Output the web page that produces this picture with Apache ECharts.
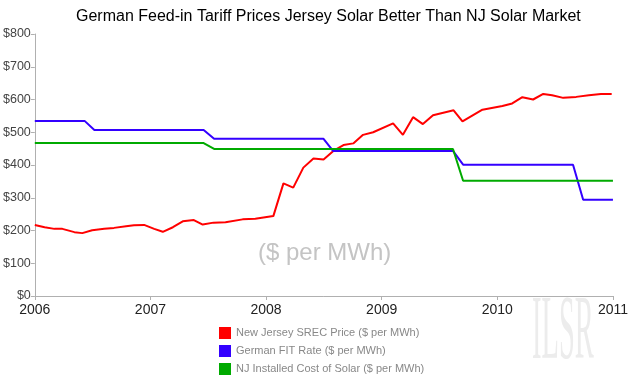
<!DOCTYPE html>
<html>
<head>
<meta charset="utf-8">
<script src="https://cdn.jsdelivr.net/npm/echarts@6/dist/echarts.min.js"></script>
<style>
html,body{margin:0;padding:0;background:#fff;}
#chart{width:631px;height:375px;}
</style>
</head>
<body>
<div id="chart"></div>
<script>
// ---- data ----
const titleText = 'German Feed-in Tariff Prices Jersey Solar Better Than NJ Solar Market';
const unitNote = '($ per MWh)';
const seriesNames = [
  'New Jersey SREC Price ($ per MWh)',
  'German FIT Rate ($ per MWh)',
  'NJ Installed Cost of Solar ($ per MWh)'
];
const yearTicks = [2006, 2007, 2008, 2009, 2010, 2011];

const srecDates = [
  '2006-01-01','2006-02-01','2006-03-04','2006-03-29','2006-05-06','2006-05-31','2006-07-01','2006-08-08',
  '2006-09-08','2006-10-16','2006-11-10','2006-12-12','2007-01-13','2007-02-09','2007-03-13','2007-04-13',
  '2007-05-18','2007-06-15','2007-07-19','2007-08-26','2007-10-19','2007-11-28','2008-01-24','2008-02-25',
  '2008-03-27','2008-04-28','2008-05-30','2008-07-01','2008-08-01','2008-09-02','2008-10-03','2008-11-03',
  '2008-12-05','2009-02-06','2009-03-09','2009-04-10','2009-05-11','2009-06-12','2009-08-16','2009-09-13',
  '2009-11-15','2010-01-17','2010-02-17','2010-03-21','2010-04-24','2010-05-26','2010-06-23','2010-07-28',
  '2010-09-07','2010-10-17','2010-11-24','2010-12-28'
];
const srecValues = [
  217,210,205,205,195,192,201,205,
  208,213,216,217,205,196,210,228,
  232,218,224,225,234,236,244,344,
  331,392,420,417,443,461,466,492,
  500,527,492,546,525,552,567,533,
  569,580,588,607,600,617,613,605,
  608,613,617,617
];

const fitDates = [
  '2006-01-01','2006-06-08','2006-07-08','2007-06-18','2007-07-21','2008-07-01',
  '2008-07-31','2009-08-14','2009-09-15','2010-08-28','2010-09-29','2011-01-01'
];
const fitValues = [534,534,507,507,480,480,443,443,401,401,294,294];

const costDates = ['2006-01-01','2007-06-18','2007-07-21','2009-08-14','2009-09-15','2011-01-01'];
const costValues = [467,467,449,449,352,352];

// ---- helpers ----
function toYear(s) {
  const d = new Date(s + 'T00:00:00Z');
  const y = d.getUTCFullYear();
  const a = Date.UTC(y, 0, 1), b = Date.UTC(y + 1, 0, 1);
  return y + (d.getTime() - a) / (b - a);
}
function pairs(dates, vals) { return dates.map((d, i) => [toYear(d), vals[i]]); }

const FONT = 'Liberation Sans, Arial, Helvetica, sans-serif';
const colors = ['#ff0000', '#3300ff', '#00aa00'];

const chart = echarts.init(document.getElementById('chart'), null, {renderer: 'canvas'});
chart.setOption({
  animation: false,
  backgroundColor: '#ffffff',
  textStyle: {fontFamily: FONT},
  title: {
    text: titleText,
    left: 71,
    top: 4,
    textStyle: {fontFamily: FONT, fontSize: 16, fontWeight: 'normal', color: '#000'}
  },
  grid: {left: 33, right: 17, top: 34, bottom: 79, containLabel: false},
  legend: {
    orient: 'vertical',
    left: 219,
    top: 327,
    height: 50,
    padding: 0,
    itemWidth: 12,
    itemHeight: 12,
    itemGap: 6,
    icon: 'rect',
    textStyle: {fontFamily: FONT, fontSize: 11, color: '#888'},
    data: seriesNames
  },
  xAxis: {
    type: 'value',
    min: yearTicks[0],
    max: yearTicks[yearTicks.length - 1],
    interval: 1,
    axisLine: {lineStyle: {color: '#b0b0b0', width: 1}},
    axisTick: {show: true, length: 4, lineStyle: {color: '#b0b0b0'}},
    splitLine: {show: false},
    axisLabel: {fontFamily: FONT, fontSize: 14, color: '#222', margin: 7, formatter: v => String(v)}
  },
  yAxis: {
    type: 'value',
    min: 0,
    max: 800,
    interval: 100,
    axisLine: {show: true, lineStyle: {color: '#b0b0b0', width: 1}},
    axisTick: {show: true, length: 4, lineStyle: {color: '#b0b0b0'}},
    splitLine: {show: false},
    axisLabel: {fontFamily: FONT, fontSize: 12.5, color: '#444', margin: 4, formatter: v => '$' + v}
  },
  graphic: [
    {
      type: 'text', left: 258, top: 241, silent: true, z: 0,
      style: {text: unitNote, font: '24px ' + FONT, fill: '#c4c4c4'}
    },
    {
      type: 'text', x: 532, y: 334, scaleX: 0.31, silent: true, z: 0,
      style: {text: 'ILSR', font: '92px Liberation Serif, serif', fill: '#ececec', verticalAlign: 'middle'}
    }
  ],
  series: [
    {name: seriesNames[0], type: 'line', data: pairs(srecDates, srecValues), showSymbol: false,
     lineStyle: {color: colors[0], width: 2}, itemStyle: {color: colors[0]}, z: 3},
    {name: seriesNames[1], type: 'line', data: pairs(fitDates, fitValues), showSymbol: false,
     lineStyle: {color: colors[1], width: 2}, itemStyle: {color: colors[1]}, z: 3},
    {name: seriesNames[2], type: 'line', data: pairs(costDates, costValues), showSymbol: false,
     lineStyle: {color: colors[2], width: 2}, itemStyle: {color: colors[2]}, z: 3}
  ]
});
</script>
</body>
</html>
